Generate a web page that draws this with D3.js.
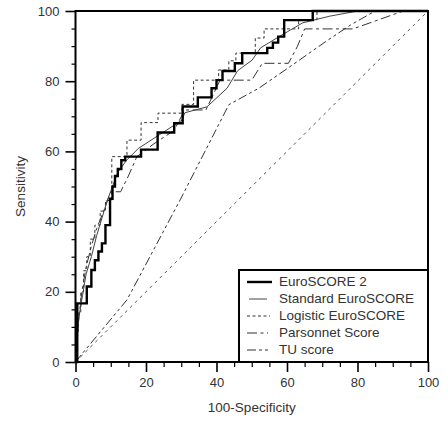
<!DOCTYPE html>
<html>
<head>
<meta charset="utf-8">
<script src="https://cdn.jsdelivr.net/npm/d3@7"></script>
<style>
  html, body { margin: 0; padding: 0; background: #fff; }
  svg { display: block; }
  text { font-family: "Liberation Sans", Arial, sans-serif; fill: #333; }
</style>
</head>
<body>
<svg id="chart" width="448" height="422"></svg>
<script>
// ---- data (100-Specificity, Sensitivity) ----
const euroscore2 = [[0,0],[0.5,0],[0.5,16.7],[3.2,16.7],[3.2,21.5],[4.5,21.5],[4.5,26.2],[5.5,26.2],[5.5,29],[6.5,29],[6.5,31.5],[7.5,31.5],[7.5,33.8],[8.5,33.8],[8.5,39],[9.8,39],[9.8,46.5],[10.5,46.5],[10.5,50],[11.2,50],[11.2,53],[12,53],[12,55],[13,55],[13,57.5],[14.1,57.5],[14.1,58.5],[18.6,58.5],[18.6,60.5],[23.3,60.5],[23.3,65.4],[28,65.4],[28,68],[30.4,68],[30.4,72.8],[34.7,72.8],[34.7,75.4],[38.6,75.4],[38.6,78],[40,78],[40,80.3],[41.7,80.3],[41.7,82.9],[45.2,82.9],[45.2,85.1],[47.3,85.1],[47.3,88],[54.4,88],[54.4,89.5],[56,89.5],[56,91],[57.5,91],[57.5,92.7],[59.2,92.7],[59.2,97.4],[67.3,97.4],[67.3,100],[100,100]];
const standardEuro = [[0,0],[0.3,6],[1,13],[2,19],[3,25],[4.5,30],[6,36],[7.5,41],[9,46],[10.5,50],[12,54],[14.5,57.5],[17.9,60.9],[30.2,68.9],[31,71],[37.3,72.7],[43,78],[46,83],[50.1,86],[52.5,89.5],[57.6,92.6],[64.4,96.6],[72,98.5],[80,100],[100,100]];
const logisticEuro = [[0,0],[0,8],[0.8,8],[0.8,14],[1.5,14],[1.5,20],[2.3,20],[2.3,26],[3.2,26],[3.2,30],[4.2,30],[4.2,35],[5.5,35],[5.5,39],[7,39],[7,43],[8.5,43],[8.5,46],[10.3,46],[10.3,58.5],[14.6,58.5],[14.6,63.2],[18.6,63.2],[18.6,68.2],[23.4,68.2],[23.4,70.9],[30.2,70.9],[30.2,73.4],[33.5,73.4],[33.5,80.3],[40.6,80.3],[40.6,83.2],[43.5,83.2],[43.5,85.8],[45.5,85.8],[45.5,88],[51,88],[51,92.3],[53.5,92.3],[53.5,94.9],[63.3,94.9],[63.3,97.5],[68.5,97.5],[68.5,100],[100,100]];
const parsonnet = [[0,0],[0.5,7],[1,13],[1.8,20],[3,27],[4.5,33],[6,38],[8,43],[10,48.5],[12.8,48.5],[15,53],[17.4,58.5],[22,62],[28,66],[31,71.8],[37,71.8],[41,80.3],[50,80.3],[53,85.1],[60.4,85.1],[62.9,89.8],[65,94.9],[78.7,94.9],[93,100],[100,100]];
const tuScore = [[0,0],[2,2.5],[14.6,17.7],[29.7,46.2],[43.5,73.3],[52,78],[61.5,84.6],[71,91.3],[78,96],[85,100],[100,100]];
const diagonal = [[0,0],[100,100]];

const majorTicks = [0,20,40,60,80,100];
const minorTicks = [5,10,15,25,30,35,45,50,55,65,70,75,85,90,95];
const legendLabels = ["EuroSCORE 2","Standard EuroSCORE","Logistic EuroSCORE","Parsonnet Score","TU score"];
const xTitle = "100-Specificity";
const yTitle = "Sensitivity";

// ---- drawing ----
const svg = d3.select("#chart");
const x = d3.scaleLinear().domain([0,100]).range([75.5,428]);
const y = d3.scaleLinear().domain([0,100]).range([362,11]);

const series = [
  {name: legendLabels[0], data: euroscore2, width: 2.4, color: "#000", dash: null, legendLen: [247,272]},
  {name: legendLabels[1], data: standardEuro, width: 1, color: "#444", dash: null, legendLen: [249,267]},
  {name: legendLabels[2], data: logisticEuro, width: 1, color: "#333", dash: "3,2.5", legendLen: [247,270]},
  {name: legendLabels[3], data: parsonnet, width: 1, color: "#333", dash: "10,3.5,3,3.5", legendLen: [247,268]},
  {name: legendLabels[4], data: tuScore, width: 1, color: "#333", dash: "9,3,3,3,3,3", legendLen: [247,270]}
];

const line = d3.line().x(d => x(d[0])).y(d => y(d[1]));

const plot = svg.append("g");
plot.append("path").attr("d", line(diagonal))
  .attr("fill","none").attr("stroke","#555").attr("stroke-width",1).attr("stroke-dasharray","3,4");

// draw thin lines first, thick last
series.slice().reverse().forEach(s => {
  plot.append("path").attr("d", line(s.data))
    .attr("fill","none").attr("stroke", s.color).attr("stroke-width", s.width)
    .attr("stroke-dasharray", s.dash).attr("stroke-linejoin","miter");
});

// frame
svg.append("rect").attr("x", x(0)).attr("y", y(100))
  .attr("width", x(100)-x(0)).attr("height", y(0)-y(100))
  .attr("fill","none").attr("stroke","#000").attr("stroke-width",2);

// axes
const yMajor = svg.append("g").attr("transform",`translate(${x(0)},0)`)
  .call(d3.axisLeft(y).tickValues(majorTicks).tickSize(10).tickPadding(6).tickFormat(d3.format("d")));
const yMinor = svg.append("g").attr("transform",`translate(${x(0)},0)`)
  .call(d3.axisLeft(y).tickValues(minorTicks).tickSize(4).tickFormat(""));
const xMajor = svg.append("g").attr("transform",`translate(0,${y(0)})`)
  .call(d3.axisBottom(x).tickValues(majorTicks).tickSize(10).tickPadding(6).tickFormat(d3.format("d")));
const xMinor = svg.append("g").attr("transform",`translate(0,${y(0)})`)
  .call(d3.axisBottom(x).tickValues(minorTicks).tickSize(5).tickFormat(""));

[yMajor,yMinor,xMajor,xMinor].forEach(g => {
  g.select(".domain").remove();
  g.selectAll(".tick line").attr("stroke","#000").attr("stroke-width",1.6);
  g.selectAll(".tick text").style("font-family","'Liberation Sans', Arial, sans-serif")
    .style("font-size","13px").attr("fill","#333");
});
yMinor.selectAll(".tick line").attr("stroke-width",1.2);
xMinor.selectAll(".tick line").attr("stroke-width",1.2);

// axis titles
svg.append("text").attr("x", (x(0)+x(100))/2).attr("y", 411.5)
  .attr("text-anchor","middle").style("font-size","13.5px").text(xTitle);
svg.append("text").attr("transform", `translate(25,${(y(0)+y(100))/2}) rotate(-90)`)
  .attr("text-anchor","middle").style("font-size","13.5px").text(yTitle);

// legend
const lg = svg.append("g");
lg.append("rect").attr("x",239).attr("y",270).attr("width", x(100)-239).attr("height", y(0)-270)
  .attr("fill","#fff").attr("stroke","#000").attr("stroke-width",2);
series.forEach((s,i) => {
  const base = 286 + i*17;
  lg.append("line").attr("x1", s.legendLen[0]).attr("x2", s.legendLen[1])
    .attr("y1", base-4).attr("y2", base-4)
    .attr("stroke", s.color).attr("stroke-width", s.width).attr("stroke-dasharray", s.dash);
  lg.append("text").attr("x", 279).attr("y", base).style("font-size","13.5px").attr("fill","#222").text(s.name);
});
</script>
</body>
</html>
